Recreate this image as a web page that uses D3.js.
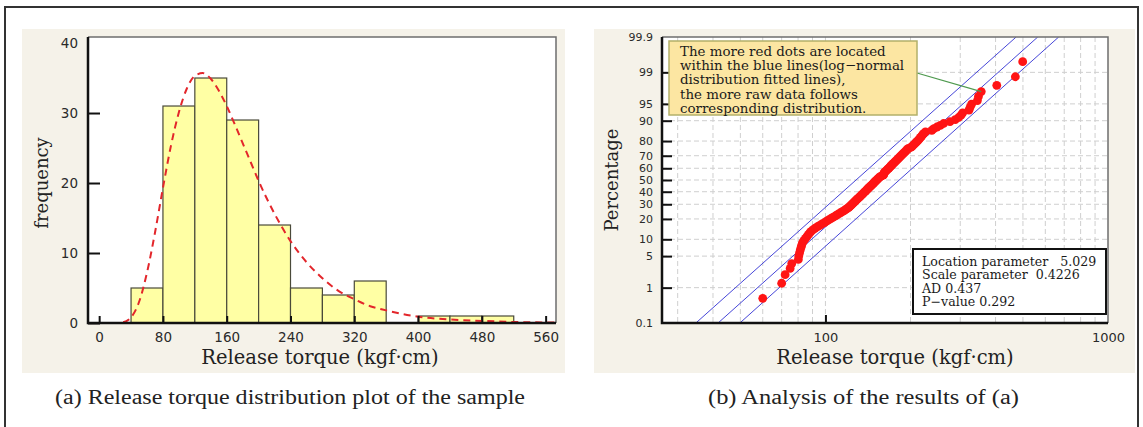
<!DOCTYPE html>
<html><head><meta charset="utf-8">
<script src="https://cdn.jsdelivr.net/npm/d3@7"></script>
<style>body{margin:0;background:#fff}svg{display:block}</style>
</head><body><svg id="c" width="1143" height="427"></svg>
<script>
// ---------- DATA ----------
// (a) histogram
const binStarts = [40, 80, 120, 160, 200, 240, 280, 320, 360, 400, 440, 480];
const binWidth = 40;
const binCounts = [5, 31, 35, 29, 14, 5, 4, 6, 0, 1, 1, 1];
// fitted (dashed) density curve: torque, frequency
const curveTorque = [0, 20, 30, 40, 50, 60, 70, 80, 90, 100, 110, 120, 130, 140, 150, 160, 170, 180, 190, 200, 220, 240, 260, 280, 300, 320, 340, 360, 400, 440, 480, 520, 560, 575];
const curveFreq   = [0, 0, 0.1, 0.8, 3.0, 7.2, 12.9, 19.3, 25.3, 30.1, 33.5, 35.3, 35.7, 34.9, 33.2, 31.0, 28.4, 25.7, 23.0, 20.3, 15.6, 11.7, 8.7, 6.4, 4.6, 3.4, 2.4, 1.8, 0.9, 0.5, 0.3, 0.15, 0.08, 0.06];
const xTicksA = [0, 80, 160, 240, 320, 400, 480, 560];
const yTicksA = [0, 10, 20, 30, 40];

// (b) probability plot: sorted release torque of the 132 samples
const torqueSorted = [
  60, 70, 72, 75, 76,
  80.2, 80.5, 81, 81.5, 82, 82.5, 83, 84, 85, 86, 87, 88, 89, 90.5, 92, 93.8, 95.5, 97.3, 99.2, 100.9,
  102.7, 104.5, 106.2, 108, 109.5, 111.3, 113, 114.8, 116.5, 118.1, 119.5,
  121, 122, 123.1, 124.1, 125.1, 126.2, 127.2, 128.3, 129.3, 130.4, 131.5, 132.5, 133.6, 134.6, 135.6,
  136.6, 137.6, 138.7, 139.7, 140.7, 141.8, 142.8, 143.9, 145, 146.1, 147.1, 148.1, 149.1, 150.2, 151.3,
  152.4, 153.5, 154.6, 155.7, 157.5,
  160.3, 160.8, 161.2, 161.5, 162.7, 164, 165.2, 166.4, 167.7, 168.9, 170.1, 171.4, 172.6, 173.9, 175.3,
  176.6, 178, 179.5, 180.9, 182.4, 183.8, 185.3, 186.8, 188.4, 189.9, 191.6, 193.2, 194.9, 196.6,
  201, 203, 205, 207, 209, 211, 213, 215, 217, 219, 221, 223, 226, 238,
  242, 248, 255, 262, 276,
  288, 296, 302, 306,
  322, 325, 329, 345, 348, 356,
  404, 470, 499
];
const pctTicks = [0.1, 1, 5, 10, 20, 30, 40, 50, 60, 70, 80, 90, 95, 99, 99.9];
const pctGrid  = [1, 5, 10, 20, 30, 40, 50, 60, 70, 80, 90, 95, 99];
const xTicksB = [100, 1000];
const xGridB = [30, 40, 50, 60, 70, 80, 90, 100, 200, 300, 400, 500, 600, 700, 800, 900];
// fitted log-normal line and its bounds: torque at 0.1 % and at 99.9 %
const fitNames  = ["lower bound", "fit", "upper bound"];
const fitAtLow  = [34.8, 41.7, 49.8];
const fitAtHigh = [473, 564, 669];
const statLabels = ["Location parameter", "Scale parameter", "AD", "P\u2212value"];
const statValues = ["5.029", "0.4226", "0.437", "0.292"];
const noteLines = [
  "The more red dots are located",
  "within the blue lines(log\u2212normal",
  "distribution fitted lines),",
  "the more raw data follows",
  "corresponding distribution."
];
const captions = ["(a) Release torque distribution plot of the sample", "(b) Analysis of the results of (a)"];

// ---------- helpers ----------
function probit(p){
  const a=[-3.969683028665376e+01,2.209460984245205e+02,-2.759285104469687e+02,1.383577518672690e+02,-3.066479806614716e+01,2.506628277459239e+00];
  const b=[-5.447609879822406e+01,1.615858368580409e+02,-1.556989798598866e+02,6.680131188771972e+01,-1.328068155288572e+01];
  const c=[-7.784894002430293e-03,-3.223964580411365e-01,-2.400758277161838e+00,-2.549732539343734e+00,4.374664141464968e+00,2.938163982698783e+00];
  const d=[7.784695709041462e-03,3.224671290700398e-01,2.445134137142996e+00,3.754408661907416e+00];
  const pl=0.02425, ph=1-pl; let q,r;
  if(p<pl){q=Math.sqrt(-2*Math.log(p));return (((((c[0]*q+c[1])*q+c[2])*q+c[3])*q+c[4])*q+c[5])/((((d[0]*q+d[1])*q+d[2])*q+d[3])*q+1);}
  if(p<=ph){q=p-0.5;r=q*q;return (((((a[0]*r+a[1])*r+a[2])*r+a[3])*r+a[4])*r+a[5])*q/(((((b[0]*r+b[1])*r+b[2])*r+b[3])*r+b[4])*r+1);}
  q=Math.sqrt(-2*Math.log(1-p));return -(((((c[0]*q+c[1])*q+c[2])*q+c[3])*q+c[4])*q+c[5])/((((d[0]*q+d[1])*q+d[2])*q+d[3])*q+1);
}

const svg = d3.select("#c");
const sans = "'DejaVu Sans', sans-serif";
const serif = "'DejaVu Serif', serif";

// outer frame
svg.append("rect").attr("x",5).attr("y",7).attr("width",1133).attr("height",440)
  .attr("fill","none").attr("stroke","#333").attr("stroke-width",2);

// panel backgrounds
svg.append("rect").attr("x",22).attr("y",29).attr("width",543).attr("height",344).attr("fill","#f5f2e9");
svg.append("rect").attr("x",594).attr("y",29).attr("width",541).attr("height",344).attr("fill","#f5f2e9");

// ================= (a) =================
const A = {l:88, r:556, t:37, b:323};
const xA = d3.scaleLinear().domain([-14, 573]).range([A.l, A.r]);
const yA = d3.scaleLinear().domain([0, 40.86]).range([A.b, A.t]);
const gA = svg.append("g");
gA.append("rect").attr("x",A.l).attr("y",A.t).attr("width",A.r-A.l).attr("height",A.b-A.t).attr("fill","#fff");

gA.selectAll("rect.bar").data(binStarts.map((s,i)=>({s,c:binCounts[i]})).filter(d=>d.c>0))
  .join("rect").attr("class","bar")
  .attr("x",d=>xA(d.s)).attr("width",d=>xA(d.s+binWidth)-xA(d.s))
  .attr("y",d=>yA(d.c)).attr("height",d=>yA(0)-yA(d.c))
  .attr("fill","#ffffa4").attr("stroke","#4a4a3a").attr("stroke-width",1.2);

svg.append("clipPath").attr("id","clipA").append("rect")
  .attr("x",A.l).attr("y",A.t).attr("width",A.r-A.l).attr("height",A.b-A.t);
gA.append("path").datum(curveTorque.map((t,i)=>[t,curveFreq[i]]))
  .attr("clip-path","url(#clipA)")
  .attr("d", d3.line().x(d=>xA(d[0])).y(d=>yA(d[1])).curve(d3.curveMonotoneX))
  .attr("fill","none").attr("stroke","#e3262b").attr("stroke-width",2).attr("stroke-dasharray","7,5");

// frame top/right
gA.append("path").attr("d",`M${A.l},${A.t}H${A.r}V${A.b}`).attr("fill","none").attr("stroke","#6d6d6d").attr("stroke-width",1.5);

const axA = gA.append("g").attr("transform",`translate(0,${A.b})`)
  .call(d3.axisBottom(xA).tickValues(xTicksA).tickSize(-7).tickPadding(9));
const ayA = gA.append("g").attr("transform",`translate(${A.l},0)`)
  .call(d3.axisLeft(yA).tickValues(yTicksA).tickSize(-12).tickPadding(10));
[axA, ayA].forEach(g=>{
  g.select(".domain").remove();
  g.selectAll(".tick line").attr("stroke","#111").attr("stroke-width",2);
  g.selectAll(".tick text").attr("font-family",sans).attr("font-size",13.5).attr("fill","#2a2a2a");
});
ayA.selectAll(".tick").filter(d=>d===40).select("line").remove();
gA.append("path").attr("d",`M${A.l},${A.t}V${A.b}H${A.r}`).attr("fill","none").attr("stroke","#111").attr("stroke-width",2.5);

gA.append("text").attr("x",320).attr("y",364).attr("text-anchor","middle")
  .attr("font-family",serif).attr("font-size",19.5).attr("fill","#222").text("Release torque (kgf\u00b7cm)");
gA.append("text").attr("transform","translate(48,183) rotate(-90)").attr("text-anchor","middle")
  .attr("font-family",serif).attr("font-size",18).attr("fill","#222").text("frequency");

// ================= (b) =================
const B = {l:662, r:1108, t:37, b:323};
const xB = d3.scaleLog().domain([26.4, 1000]).range([B.l, B.r]);
const zB = d3.scaleLinear().domain([probit(0.001), probit(0.999)]).range([B.b, B.t]);
const yB = p => zB(probit(p/100));
const gB = svg.append("g");
gB.append("rect").attr("x",B.l).attr("y",B.t).attr("width",B.r-B.l).attr("height",B.b-B.t).attr("fill","#fff");
svg.append("clipPath").attr("id","clipB").append("rect")
  .attr("x",B.l).attr("y",B.t).attr("width",B.r-B.l).attr("height",B.b-B.t);

// grid
gB.selectAll("line.gx").data(xGridB).join("line").attr("class","gx")
  .attr("x1",d=>xB(d)).attr("x2",d=>xB(d)).attr("y1",B.t).attr("y2",B.b)
  .attr("stroke","#cfcfcf").attr("stroke-dasharray","5,3");
gB.selectAll("line.gy").data(pctGrid).join("line").attr("class","gy")
  .attr("y1",d=>yB(d)).attr("y2",d=>yB(d)).attr("x1",B.l).attr("x2",B.r)
  .attr("stroke","#cfcfcf").attr("stroke-dasharray","5,3");

// fitted lines
gB.append("g").attr("clip-path","url(#clipB)").selectAll("line").data(fitNames.map((n,i)=>({n,lo:fitAtLow[i],hi:fitAtHigh[i]})))
  .join("line")
  .attr("x1",d=>xB(d.lo)).attr("y1",yB(0.1)).attr("x2",d=>xB(d.hi)).attr("y2",yB(99.9))
  .attr("stroke","#4646d8").attr("stroke-width",1);

// points
const n = torqueSorted.length;
const pts = torqueSorted.map((v,i)=>({v, p:(i+1-0.3)/(n+0.4)*100}));
gB.append("g").selectAll("circle").data(pts).join("circle")
  .attr("cx",d=>xB(d.v)).attr("cy",d=>yB(d.p)).attr("r",4.4).attr("fill","#ff1414");

// frame
gB.append("path").attr("d",`M${B.l},${B.t}H${B.r}V${B.b}`).attr("fill","none").attr("stroke","#6d6d6d").attr("stroke-width",1.5);
const axB = gB.append("g").attr("transform",`translate(0,${B.b})`)
  .call(d3.axisBottom(xB).tickValues(xTicksB).tickFormat(d3.format("d")).tickSize(-8).tickPadding(10));
const ayB = gB.append("g").attr("transform",`translate(${B.l},0)`)
  .call(d3.axisLeft(zB).tickValues(pctTicks.map(p=>probit(p/100))).tickFormat((d,i)=>String(pctTicks[i])).tickSize(-10).tickPadding(9));
[axB, ayB].forEach(g=>{
  g.select(".domain").remove();
  g.selectAll(".tick line").attr("stroke","#111").attr("stroke-width",2);
  g.selectAll(".tick text").attr("font-family",sans).attr("font-size",13).attr("fill","#2a2a2a");
});
ayB.selectAll(".tick text").attr("font-size",11);
ayB.selectAll(".tick").filter((d,i)=>i===0||i===pctTicks.length-1).select("line").remove();
axB.selectAll(".tick").filter(d=>d===1000).select("line").remove();
gB.append("path").attr("d",`M${B.l},${B.t}V${B.b}H${B.r}`).attr("fill","none").attr("stroke","#111").attr("stroke-width",2.5);

gB.append("text").attr("x",895).attr("y",364).attr("text-anchor","middle")
  .attr("font-family",serif).attr("font-size",19.5).attr("fill","#222").text("Release torque (kgf\u00b7cm)");
gB.append("text").attr("transform","translate(618,180) rotate(-90)").attr("text-anchor","middle")
  .attr("font-family",serif).attr("font-size",18).attr("fill","#222").text("Percentage");

// annotation
const noteBox = {x:669, y:41, w:248, h:74};
const leadPt = pts[128];
gB.append("line").attr("x1",noteBox.x+noteBox.w).attr("y1",73).attr("x2",xB(leadPt.v)).attr("y2",yB(leadPt.p))
  .attr("stroke","#4f9a4f").attr("stroke-width",1.3);
gB.append("rect").attr("x",noteBox.x).attr("y",noteBox.y).attr("width",noteBox.w).attr("height",noteBox.h)
  .attr("fill","#fce6a2").attr("stroke","#b3b06a").attr("stroke-width",1.5);
gB.selectAll("text.note").data(noteLines).join("text").attr("class","note")
  .attr("x",680).attr("y",(d,i)=>55.5+i*14.4)
  .attr("font-family",serif).attr("font-size",13.4).attr("fill","#1a1a1a").text(d=>d);

// stats box
gB.append("rect").attr("x",913).attr("y",249).attr("width",193).attr("height",65)
  .attr("fill","#fff").attr("stroke","#111").attr("stroke-width",2);
const statGap = ["\u00a0\u00a0\u00a0", "\u00a0\u00a0", " ", " "];
gB.selectAll("text.stat").data(statLabels).join("text").attr("class","stat")
  .attr("x",922).attr("y",(d,i)=>266+i*13.3)
  .attr("font-family",serif).attr("font-size",12.6).attr("fill","#1a1a1a")
  .text((d,i)=>d+statGap[i]+statValues[i]);

// captions
const capWidths = [470, 311];
svg.selectAll("text.cap").data(captions).join("text").attr("class","cap")
  .attr("x",(d,i)=>[290,863.5][i]).attr("y",404).attr("text-anchor","middle")
  .attr("textLength",(d,i)=>capWidths[i]).attr("lengthAdjust","spacingAndGlyphs")
  .attr("font-family","'Liberation Serif', serif").attr("font-size",20).attr("fill","#222").text(d=>d);
</script></body></html>
